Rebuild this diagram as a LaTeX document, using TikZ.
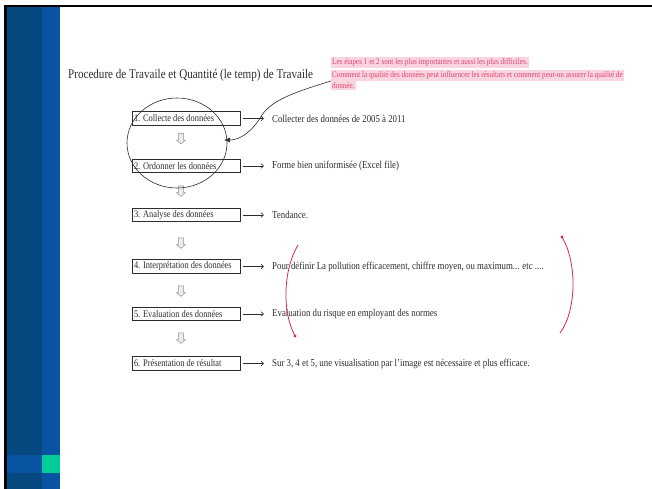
\documentclass[tikz,border=0pt]{standalone}
\usepackage{fontspec}
\setmainfont{Liberation Serif}[FakeStretch=0.84]
\usetikzlibrary{shapes.arrows,arrows.meta}
\definecolor{dkblue}{RGB}{4,72,128}
\definecolor{ltblue}{RGB}{8,84,160}
\definecolor{accgreen}{RGB}{0,204,153}
\definecolor{notepink}{RGB}{222,70,115}
\definecolor{notebg}{RGB}{250,212,222}
\definecolor{arcred}{RGB}{214,40,90}
\definecolor{inkgray}{RGB}{45,45,45}
\tikzset{
  stepbox/.style={draw=inkgray, line width=0.55pt, minimum height=13.5pt,
    text width=104pt, align=flush left, inner sep=2pt, text=inkgray,
    font=\fontsize{10}{11}\selectfont},
  desc/.style={anchor=west, inner sep=1pt, text=inkgray,
    font=\fontsize{10.5}{12}\selectfont},
  noteline/.style={anchor=base west, inner xsep=1pt, inner ysep=1.5pt, fill=notebg,
    text=notepink, font=\fontsize{8.5}{10}\selectfont},
  rarrow/.style={-{Straight Barb[length=2.5pt,width=4.5pt]}, line width=0.6pt,
    draw=inkgray, shorten <=3pt, shorten >=7pt},
  blockarrow/.style={single arrow, draw=gray!85, fill=gray!15, line width=0.5pt,
    shape border rotate=270, minimum height=10.5pt, minimum width=9pt,
    single arrow head extend=1.8pt, inner sep=2.3pt, single arrow tip angle=100},
  arcline/.style={draw=arcred, line width=0.8pt},
}
\begin{document}
\begin{tikzpicture}[x=1pt,y=-1pt]
\useasboundingbox (0,0) rectangle (652,489);
\fill[white] (0,0) rectangle (652,489);
% slide frame
\fill[dkblue] (7,7) rectangle (42,489);
\fill[ltblue] (42,7) rectangle (60,489);
\fill[ltblue] (7,455) rectangle (42,473);
\fill[accgreen] (42,455) rectangle (60,473);
\fill[black] (4,5) rectangle (652,7.3);
\fill[black] (4,5) rectangle (7,489);

% title
\node[anchor=base west, inner sep=0pt, text=inkgray, font=\fontsize{13.2}{15}\selectfont]
  (title) at (68,79) {Procedure de Travaile et Quantité (le temp) de Travaile};

% note
\node[noteline] (n1) at (331,64.5) {Les étapes 1 et 2 sont les plus importantes et aussi les plus difficiles.};
\node[noteline] (n2) at (331,77.5) {Comment la qualité des données peut influencer les résultats et comment peut-on assurer la qualité de};
\node[noteline] (n3) at (331,88.5) {donnée.};

% steps
\node[stepbox] (b1) at (186,118.5) {1. Collecte des données};
\node[stepbox] (b2) at (186,166) {2. Ordonner les données};
\node[stepbox] (b3) at (186,215) {3. Analyse des données};
\node[stepbox] (b4) at (186,266.5) {4. Interprétation des données};
\node[stepbox] (b5) at (186,314) {5. Evaluation des données};
\node[stepbox] (b6) at (186,363.5) {6. Présentation de résultat};

% block arrows
\node[blockarrow] (k1) at (181,137.5) {};
\node[blockarrow] (k2) at (181,190) {};
\node[blockarrow] (k3) at (181,242) {};
\node[blockarrow] (k4) at (181,290) {};
\node[blockarrow] (k5) at (181,337) {};

% descriptions
\node[desc] (t1) at (271,118.5) {Collecter des données de 2005 à 2011};
\node[desc] (t2) at (271,166) {Forme bien uniformisée (Excel file)};
\node[desc] (t3) at (271,215) {Tendance.};
\node[desc] (t4) at (271,266.5) {Pour définir La pollution efficacement, chiffre moyen, ou maximum... etc ....};
\node[desc] (t5) at (271,314) {Evaluation du risque en employant des normes};
\node[desc] (t6) at (271,363.5) {Sur 3, 4 et 5, une visualisation par l'image est nécessaire et plus efficace.};

\foreach \i in {1,...,6} { \draw[rarrow] (b\i) -- (t\i); }

% circle around steps 1-2
\draw[inkgray, line width=0.6pt] (177,143) ellipse [x radius=50, y radius=45];

% curved pointer from note
\coordinate (pstart) at (n2.south west);
\coordinate (ptip) at (224,140);
\draw[inkgray, line width=0.6pt, -{Latex[length=6pt,width=5pt]}]
  (pstart) .. controls (295,92) and (272,100) .. (262,115)
  .. controls (252,132) and (240,140) .. (ptip);

% red brackets
\coordinate (la) at (298,245);
\coordinate (lb) at (295,336);
\coordinate (ra) at (562,237);
\coordinate (rb) at (560,333);
\draw[arcline] (la) .. controls (283,270) and (282,312) .. (lb);
\fill[arcred] (lb) circle (1.6);
\draw[arcline] (ra) .. controls (577,262) and (577,310) .. (rb);
\fill[arcred] (ra) circle (1.6);
\end{tikzpicture}
\end{document}
